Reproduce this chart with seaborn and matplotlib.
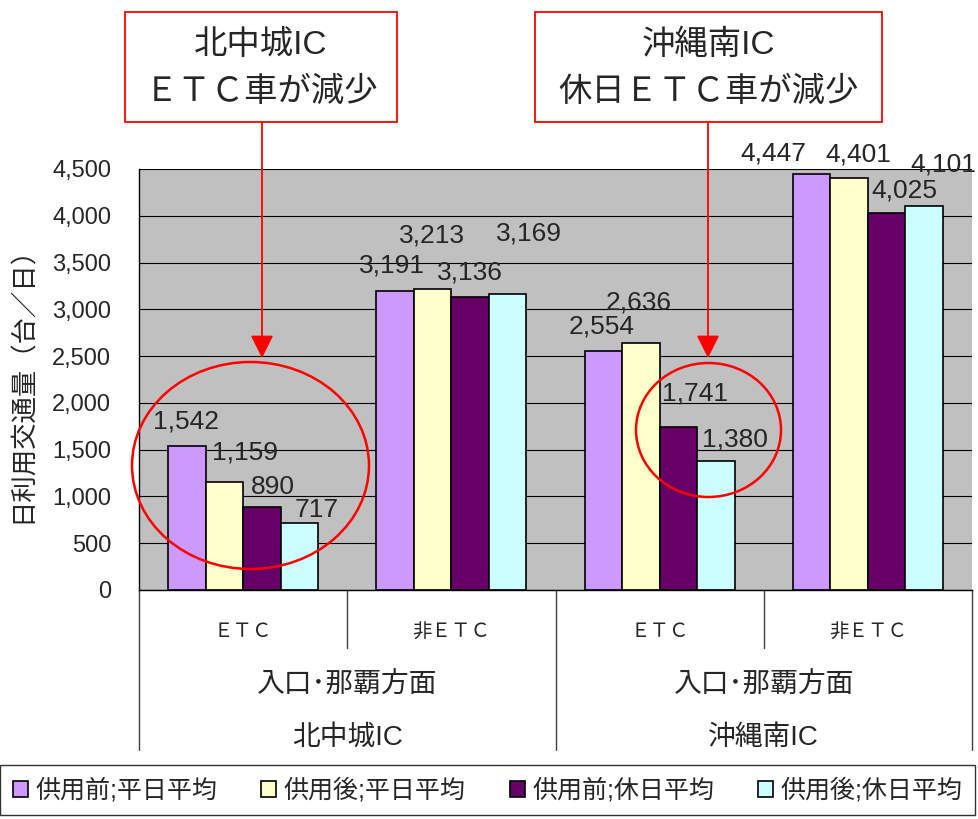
import pandas as pd
import matplotlib.pyplot as plt
import seaborn as sns
from matplotlib.patches import Rectangle, Ellipse

sns.set_style("white")
plt.rcParams['font.family'] = ['Liberation Sans', 'Noto Sans CJK JP']

W, H = 979, 819

# データ
ic_names = ["北中城IC", "沖縄南IC"]
direction = "入口･那覇方面"
lane_types = ["ＥＴＣ", "非ＥＴＣ"]
groups = ["北中城IC ETC", "北中城IC 非ETC", "沖縄南IC ETC", "沖縄南IC 非ETC"]
series = ["供用前;平日平均", "供用後;平日平均", "供用前;休日平均", "供用後;休日平均"]
before_weekday = [1542, 3191, 2554, 4447]
after_weekday = [1159, 3213, 2636, 4401]
before_holiday = [890, 3136, 1741, 4025]
after_holiday = [717, 3169, 1380, 4101]
yticks = [0, 500, 1000, 1500, 2000, 2500, 3000, 3500, 4000, 4500]

colors = ["#CC99FF", "#FFFFCC", "#660066", "#CCFFFF"]
# ラベル位置の調整 (px): series ごと, group ごと
label_offsets = [
    [(-1, 24), (-3, 26), (-2, 25), (-38, 20)],
    [(21, 29), (-1, 54), (-2, 41), (9, 24)],
    [(11, 20), (0, 24), (17, 34), (18, 23)],
    [(17, 13), (21, 60), (19, 21), (19, 42)],
]

values = [before_weekday, after_weekday, before_holiday, after_holiday]
df = pd.DataFrame({
    "group": groups * 4,
    "series": [s for s in series for _ in groups],
    "value": [v for vals in values for v in vals],
})

fig = plt.figure(figsize=(W / 100, H / 100), dpi=100)
ax = fig.add_axes([139 / W, (H - 590) / H, 833 / W, 421 / H])

sns.barplot(data=df, x="group", y="value", hue="series", order=groups,
            hue_order=series, palette=colors, width=0.72, gap=0,
            edgecolor="black", linewidth=1.2, saturation=1, ax=ax)
handles, _ = ax.get_legend_handles_labels()
ax.get_legend().remove()

ax.set_facecolor("#C0C0C0")
ax.set_xlim(-0.5, 3.5)
ax.set_ylim(0, 4500)
ax.set_yticks(yticks)
ax.set_yticklabels([f"{v:,}" for v in yticks], fontsize=17)
ax.tick_params(axis="y", direction="in", length=6, pad=20, color="black")
bounds = [-0.5, 0.5, 1.5, 2.5, 3.5]
ax.set_xticks(bounds)
ax.set_xticklabels([""] * 5)
ax.tick_params(axis="x", direction="in", length=7, color="#404040")
ax.yaxis.grid(True, color="black", lw=0.8)
ax.set_axisbelow(True)
ax.set_xlabel("")
ax.set_ylabel("")
for side in ["top", "right"]:
    ax.spines[side].set_visible(False)
for side in ["left", "bottom"]:
    ax.spines[side].set_color("black")
    ax.spines[side].set_linewidth(1)

# 値ラベル
for i, cont in enumerate(ax.containers):
    for j, bar in enumerate(cont.patches):
        x = bar.get_x() + bar.get_width() / 2
        y = bar.get_height()
        ax.annotate(f"{int(y):,}", (x, y), xytext=label_offsets[i][j],
                    textcoords="offset pixels", ha="center", va="center",
                    fontsize=19, annotation_clip=False)

# 多段の分類軸
xt = ax.get_xaxis_transform()
for b in bounds:
    low = -0.138 if b in (0.5, 2.5) else -0.38
    ax.plot([b, b], [0, low], transform=xt, color="#404040", lw=1, clip_on=False)
for g in range(4):
    ax.text(g, -0.102, lane_types[g % 2], transform=xt, ha="center", va="center",
            fontsize=14)
for k in range(2):
    ax.text(0.5 + 2 * k, -0.228, direction, transform=xt, ha="center", va="center",
            fontsize=20)
    ax.text(0.5 + 2 * k, -0.3515, ic_names[k], transform=xt, ha="center", va="center",
            fontsize=20)

fig.text(22 / W, 1 - 378 / H, "日利用交通量（台／日）", rotation=90,
         ha="center", va="center", fontsize=19)

fig.legend(handles, series, loc="lower left", bbox_to_anchor=(0, 4 / H, 975 / W, 58 / H),
           mode="expand", ncol=4, frameon=True, fancybox=False, edgecolor="black",
           fontsize=18, handlelength=0.6, handleheight=0.6, handletextpad=0.3,
           borderaxespad=0, borderpad=0.5)

# 注記
def fpx(x, y):
    return (x / W, 1 - y / H)

notes = [
    ((125, 12, 397, 122), ["北中城IC", "ＥＴＣ車が減少"], 262, (250.5, 465.5, 237, 207)),
    ((535, 12, 882, 122), ["沖縄南IC", "休日ＥＴＣ車が減少"], 708, (708.5, 430, 145, 134)),
]
for (x0, y0, x1, y1), lines, ax_x, (ex, ey, ew, eh) in notes:
    fig.add_artist(Rectangle(fpx(x0, y1), (x1 - x0) / W, (y1 - y0) / H,
                             transform=fig.transFigure, fill=False, ec="red", lw=1.3))
    cx = (x0 + x1) / 2
    fig.text(*fpx(cx, 45), lines[0], ha="center", va="center", fontsize=24)
    fig.text(*fpx(cx, 92), lines[1], ha="center", va="center", fontsize=24)
    fig.add_artist(Ellipse(fpx(ex, ey), ew / W, eh / H, transform=fig.transFigure,
                           fill=False, ec="red", lw=1.8))
    ax.annotate("", xy=(ax_x, H - 358), xytext=(ax_x, H - y1),
                xycoords="figure pixels", textcoords="figure pixels",
                annotation_clip=False,
                arrowprops=dict(arrowstyle="-|>,head_length=0.7,head_width=0.35",
                                color="red", lw=1.3, shrinkA=0, shrinkB=0,
                                mutation_scale=20))

fig.savefig("out.png", dpi=100)
